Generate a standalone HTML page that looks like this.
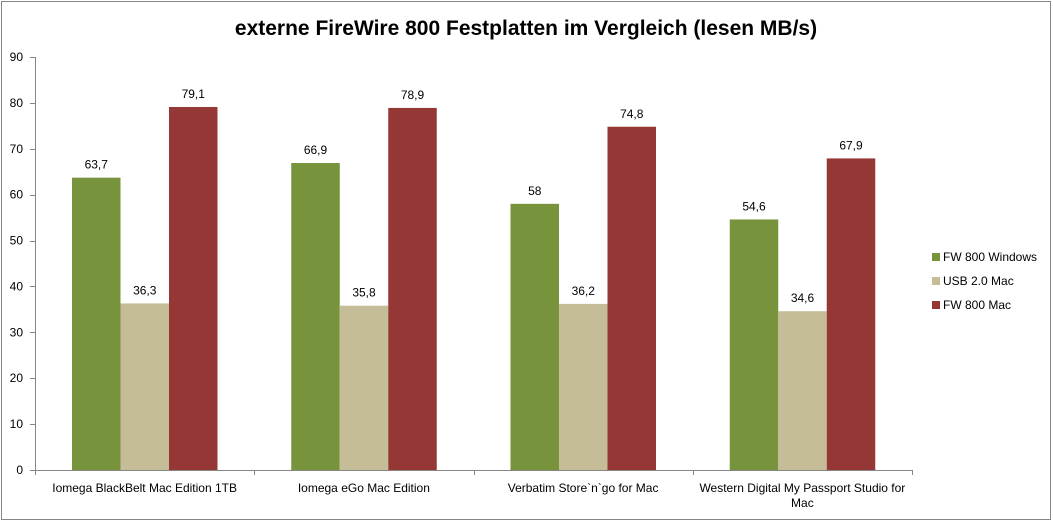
<!DOCTYPE html>
<html><head><meta charset="utf-8"><style>
html,body{margin:0;padding:0;background:#fff}
svg{display:block;font-family:"Liberation Sans",sans-serif}
</style></head><body>
<svg id="c" width="1053" height="522">
<rect x="1.5" y="1.5" width="1049" height="518" fill="#fff" stroke="#868686"/>
<text x="526" y="35" text-anchor="middle" font-size="21" font-weight="bold" fill="#000">externe FireWire 800 Festplatten im Vergleich (lesen MB/s)</text>
<g id="plot"></g>
</svg>
<script>
const categories=[["Iomega BlackBelt Mac Edition 1TB"],["Iomega eGo Mac Edition"],["Verbatim Store`n`go for Mac"],["Western Digital My Passport Studio for","Mac"]];
const seriesNames=["FW 800 Windows","USB 2.0 Mac","FW 800 Mac"];
const fw800Win=[63.7,66.9,58,54.6];
const usbMac=[36.3,35.8,36.2,34.6];
const fw800Mac=[79.1,78.9,74.8,67.9];
const yTicks=[0,10,20,30,40,50,60,70,80,90];
const series=[fw800Win,usbMac,fw800Mac];
const colors=["#77933c","#c4bd97","#953735"];
const NS="http://www.w3.org/2000/svg";
const g=document.getElementById('plot');
const x0=35,x1=912,yb=470,yt=57;
const y=v=>yb-(v/90)*(yb-yt);
const gw=(x1-x0)/categories.length, bw=48.5, off=37;
function el(t,a,txt){const e=document.createElementNS(NS,t);for(const k in a)e.setAttribute(k,a[k]);if(txt!==undefined)e.textContent=txt;g.appendChild(e);return e;}
const ya=el('line',{x1:x0+0.5,y1:yt,x2:x0+0.5,y2:yb+0.5,stroke:'#868686'});


yTicks.forEach(t=>{
 const l=el('line',{x1:x0-5,x2:x0,y1:Math.round(y(t))+0.5,y2:Math.round(y(t))+0.5,stroke:'#868686'});
 
 
 const tx=el('text',{x:x0-12,y:y(t)+4,'text-anchor':'end','font-size':12},String(t));
 
 
});
categories.forEach((c,i)=>{
 const gx=x0+i*gw;
 series.forEach((s,j)=>{
  const bx=gx+off+j*bw;
  const r=el('rect',{x:bx,y:y(s[i]),width:bw,height:yb-y(s[i]),fill:colors[j]});
  
  
  const lb=el('text',{x:bx+bw/2,y:y(s[i])-9,'text-anchor':'middle','font-size':12},String(s[i]).replace('.',','));
  
  
 });
 c.forEach((line,k)=>{
  const t=el('text',{x:gx+gw/2,y:492+k*15,'text-anchor':'middle','font-size':12},line);
  
  
 });
});
for(let i=0;i<=categories.length;i++){
 const xx=Math.round(x0+i*gw)+0.5;
 const tk=el('line',{x1:xx,x2:xx,y1:yb,y2:yb+5,stroke:'#868686'});
 
 
}
const xa=el('line',{x1:x0,y1:yb+0.5,x2:x1,y2:yb+0.5,stroke:'#868686'});


seriesNames.forEach((n,j)=>{
 const ly=257+j*24;
 const sq=el('rect',{x:932,y:ly-4,width:8,height:8,fill:colors[j]});
 
 
 const t=el('text',{x:943,y:ly+4,'font-size':12},n);
 
 
});
</script>
</body></html>
